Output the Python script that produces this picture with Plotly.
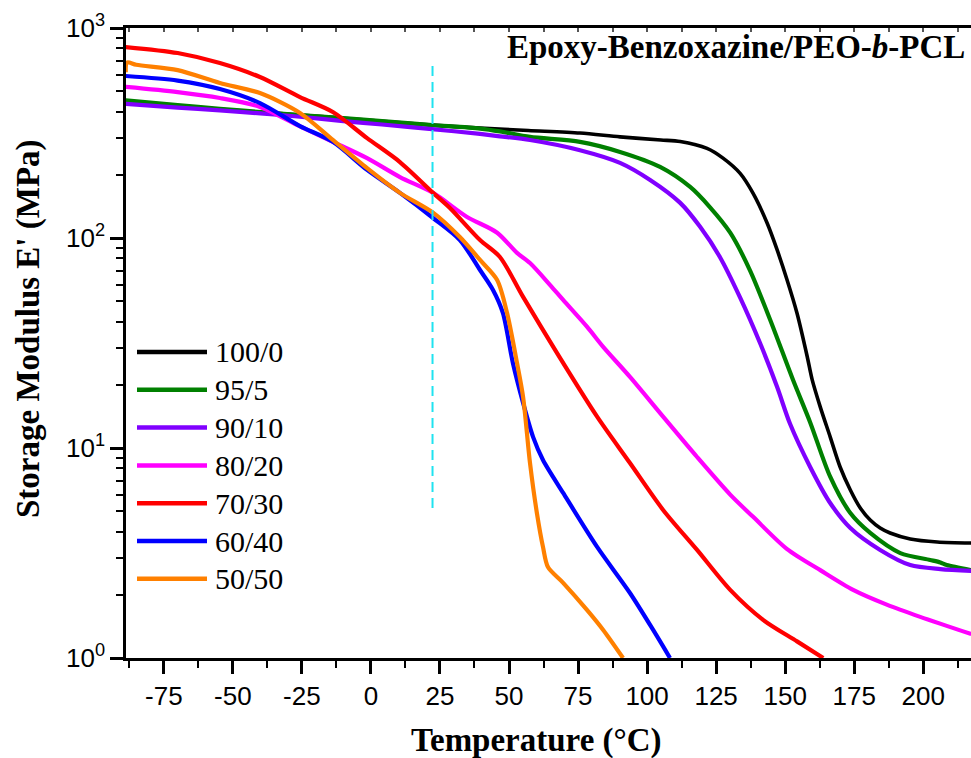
import plotly.graph_objects as go

# ---------------- data ----------------
series_names = ["100/0", "95/5", "90/10", "80/20", "70/30", "60/40", "50/50"]
series_colors = ["#000000", "#008000", "#8000FF", "#FF00FF", "#FF0000", "#0000FF", "#FF8000"]

t_100_0 = [-88.8, -70, -54.7, -40, -25.7, -10, 4, 22.1, 39.5, 57, 75.7, 90.2, 105, 112, 121.7,
           127.5, 133.7, 138.4, 143.5, 147.1, 150.7, 154.3, 158.0, 159.8, 162.7, 166.3, 169.9,
           173.6, 177.2, 180.8, 184.4, 188.0, 195.3, 205.1, 217.4]
e_100_0 = [445, 425, 410, 397, 385, 372, 360, 345, 334, 325, 316, 303, 293, 288, 267,
           240, 203, 163, 117.5, 87.7, 63.1, 43.8, 27.2, 21.1, 15.7, 11.3, 8.12,
           6.31, 5.18, 4.54, 4.16, 3.94, 3.69, 3.57, 3.53]

t_95_5 = [-88.8, -70, -54.7, -40, -25.7, -10, 4, 22.1, 39.5, 46.7, 57.6, 75.7, 90.2, 104.7,
          115.6, 122.8, 130.1, 137.3, 144.6, 152.9, 159.1, 166.3, 173.6, 180.8, 191.7, 202.5,
          206.2, 208.5, 217.4]
e_95_5 = [452, 430, 412, 398, 385, 372, 360, 345, 332, 322, 303, 287, 257, 218,
          175, 140, 106, 70, 40.7, 21, 13.2, 7.3, 4.9, 3.94, 3.16, 2.93,
          2.85, 2.77, 2.62]

t_90_10 = [-88.8, -70, -54.7, -40, -25.7, -10, 4, 22.1, 39.5, 46.7, 57.6, 75.7, 90.2, 101.1,
           112, 119.2, 126.4, 133.7, 140.9, 147.1, 151.8, 159.1, 166.3, 173.6, 184.4, 195.3,
           206.2, 217.4]
e_90_10 = [435, 418, 405, 392, 378, 360, 347, 330, 313, 305, 293, 262, 228, 189,
           147, 113, 81, 52, 31.6, 19.5, 13.0, 8.1, 5.47, 4.16, 3.27, 2.77,
           2.65, 2.6]

t_80_20 = [-88.8, -70, -54.7, -40.2, -25.7, -13.8, -1.4, 10.5, 22.5, 34.8, 45.7, 52.9, 57.6,
           64.9, 69.6, 78.3, 84.1, 93.8, 105.8, 118.1, 130.1, 138.4, 150.7, 162.7, 174.6,
           187.0, 198.9, 217.4]
e_80_20 = [524, 495, 464, 421, 340, 287, 240, 195, 164, 126, 106, 84.9, 76.0,
           59.7, 50.7, 37.7, 30.3, 21.8, 14.1, 9.06, 6.0, 4.7, 3.3, 2.62, 2.11,
           1.79, 1.57, 1.30]

t_70_30 = [-88.8, -70, -54.7, -40.2, -25.7, -13.8, -1.4, 10.5, 22.5, 28.6, 39.5, 46.7, 55.1,
           67.4, 81.9, 93.8, 105.8, 118.1, 130.1, 142.0, 154.3, 163.8]
e_70_30 = [812, 760, 681, 584, 469, 398, 299, 230, 164, 139, 97.8, 81.2, 52.4,
           28.3, 14.1, 8.48, 5.07, 3.27, 2.11, 1.52, 1.2, 1.0]

t_60_40 = [-88.8, -70, -54.7, -40.2, -25.7, -13.8, -1.4, 10.5, 22.5, 32.2, 39.5, 44.2, 47.8,
           51.4, 55.1, 58.7, 62.3, 69.6, 81.9, 93.8, 102.2, 108.3]
e_60_40 = [591, 562, 512, 439, 341, 287, 211, 164, 124.5, 97.8, 70.4, 56.6, 43.9,
           25.4, 16.4, 11.3, 8.77, 6.11, 3.38, 2.04, 1.36, 1.0]

t_50_50 = [-88.8, -88.3, -85, -70, -54.7, -40.2, -25.7, -13.8, -1.4, 10.5, 22.5, 32.2, 39.5,
           45.7, 49.3, 52.9, 55.1, 57.6, 60.1, 62.3, 64.1, 69.6, 78.3, 84.1, 91.3]
e_50_50 = [615, 685, 668, 630, 547, 490, 394, 293, 215, 164, 132, 101, 78.6,
           63.1, 43.9, 25.4, 17.5, 8.48, 4.9, 3.38, 2.71, 2.28, 1.69, 1.36, 1.0]

series_t = [t_100_0, t_95_5, t_90_10, t_80_20, t_70_30, t_60_40, t_50_50]
series_e = [e_100_0, e_95_5, e_90_10, e_80_20, e_70_30, e_60_40, e_50_50]

# dashed reference line
vline_t = [22.3, 22.3]
vline_e = [5.18, 704]

# axes
x_range = [-88.7, 217.3]
x_tick_vals = [-75, -50, -25, 0, 25, 50, 75, 100, 125, 150, 175, 200]
x_tick_text = ["-75", "-50", "-25", "0", "25", "50", "75", "100", "125", "150", "175", "200"]
x_minor_vals = [-87.5, -62.5, -37.5, -12.5, 12.5, 37.5, 62.5, 87.5, 112.5, 137.5, 162.5, 187.5, 212.5]
x_top_vals = sorted(x_tick_vals + x_minor_vals)
y_tick_vals = [1, 10, 100, 1000]
y_tick_text = ["10<sup>0</sup>", "10<sup>1</sup>", "10<sup>2</sup>", "10<sup>3</sup>"]
y_minor_vals = [m * d for d in (1, 10, 100) for m in range(2, 10)]

title_text = "Epoxy-Benzoxazine/PEO-<i>b</i>-PCL"
x_title = "Temperature (°C)"
y_title = "Storage Modulus E' (MPa)"

# ---------------- figure ----------------
W, H = 971, 758
ML, MR, MT, MB = 126, 0, 28, 100
PW, PH = W - ML - MR, H - MT - MB

SERIF = "Liberation Serif, Times New Roman, serif"
SANS = "Liberation Sans, Arial, sans-serif"

fig = go.Figure()
for name, t, e, c in zip(series_names, series_t, series_e, series_colors):
    fig.add_trace(go.Scatter(x=t, y=e, mode="lines", name=name, showlegend=False,
                             line=dict(color=c, width=4.2 if c != "#000000" else 3.6,
                                       shape="spline", smoothing=0.8)))

fig.add_trace(go.Scatter(x=vline_t, y=vline_e, mode="lines", showlegend=False, xaxis="x2",
                         line=dict(color="#1FE3F0", width=2, dash="10px,6px")))

# manual legend with long line samples
def px_x(px):
    return (px - ML) / PW

def px_y(py):
    return (H - MB - py) / PH

shapes = []
annotations = []
leg_top, leg_step = 352, 37.8
for i, (name, c) in enumerate(zip(series_names, series_colors)):
    yy = px_y(leg_top + i * leg_step)
    shapes.append(dict(type="line", xref="paper", yref="paper", x0=px_x(137), x1=px_x(207),
                       y0=yy, y1=yy, line=dict(color=c, width=4.5)))
    annotations.append(dict(xref="paper", yref="paper", x=px_x(213), y=yy, text=name,
                            showarrow=False, xanchor="left", yanchor="middle",
                            font=dict(family=SERIF, size=30, color="black")))

annotations.append(dict(xref="paper", yref="paper", x=px_x(967), y=px_y(47), text=title_text,
                        showarrow=False, xanchor="right", yanchor="middle",
                        font=dict(family=SERIF, size=33, color="black", weight="bold")))
annotations.append(dict(xref="paper", yref="paper", x=px_x(536), y=px_y(740), text=x_title,
                        showarrow=False, xanchor="center", yanchor="middle",
                        font=dict(family=SERIF, size=33, color="black", weight="bold")))
annotations.append(dict(xref="paper", yref="paper", x=px_x(28), y=px_y(329), text=y_title,
                        showarrow=False, xanchor="center", yanchor="middle", textangle=-90,
                        font=dict(family=SERIF, size=33, color="black", weight="bold")))

fig.update_layout(
    width=W, height=H,
    margin=dict(l=ML, r=MR, t=MT, b=MB, pad=0),
    paper_bgcolor="white", plot_bgcolor="white",
    showlegend=False,
    shapes=shapes, annotations=annotations,
    xaxis=dict(range=x_range, tickmode="array", tickvals=x_tick_vals, ticktext=x_tick_text,
               ticks="outside", ticklen=13, tickwidth=2.5, tickcolor="black",
               showline=True, linewidth=2.5, linecolor="black", showgrid=False, zeroline=False,
               tickfont=dict(family=SANS, size=26, color="black"),
               minor=dict(tickmode="array", tickvals=x_minor_vals, ticks="outside",
                          ticklen=7, tickwidth=2, tickcolor="black")),
    xaxis2=dict(matches="x", overlaying="x", side="top", anchor="y", range=x_range,
                tickmode="array", tickvals=x_top_vals, showticklabels=False,
                ticks="inside", ticklen=4, tickwidth=1.5, tickcolor="#555555",
                showline=True, linewidth=2.5, linecolor="black", showgrid=False, zeroline=False),
    yaxis=dict(type="log", range=[0, 3], tickmode="array", tickvals=y_tick_vals,
               ticktext=y_tick_text, ticks="outside", ticklen=13, tickwidth=2.5,
               tickcolor="black", showline=True, linewidth=2.5, linecolor="black",
               showgrid=False, zeroline=False,
               tickfont=dict(family=SANS, size=26, color="black"),
               minor=dict(tickmode="array", tickvals=y_minor_vals, ticks="outside",
                          ticklen=7, tickwidth=2, tickcolor="black")),
)

fig.write_html("out.html")
